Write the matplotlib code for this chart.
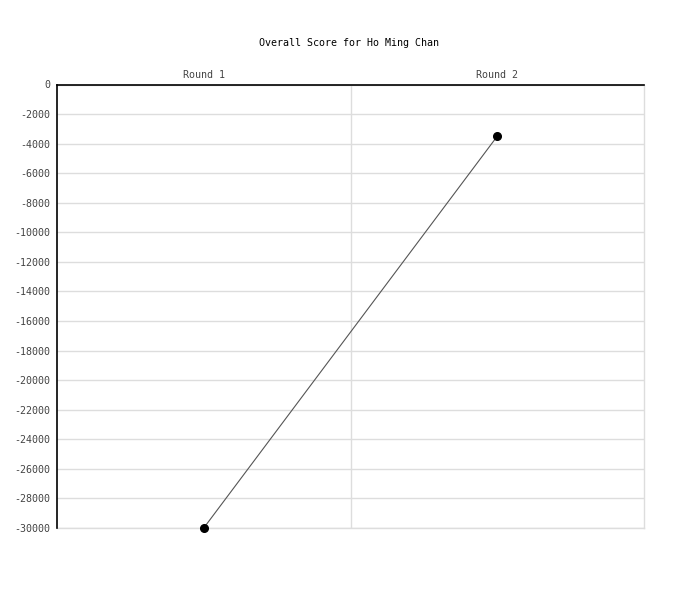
import matplotlib
matplotlib.use("Agg")
import matplotlib.pyplot as plt
from matplotlib.ticker import FixedLocator, FuncFormatter

rounds = ["Round 1", "Round 2"]
scores = [-30000, -3500]
yticks = list(range(0, -30001, -2000))

plt.rcParams['font.family'] = ['DejaVu Sans Mono']
fig = plt.figure(figsize=(7, 6), dpi=100)
ax = fig.add_axes([57/700, 1-528/600, 587/700, (528-84.5)/600])

x = [1, 2]
ax.plot(x, scores, color='#555555', lw=0.8, marker='o', ms=5.5,
        markerfacecolor='black', markeredgecolor='black', zorder=3, clip_on=False)

ax.set_xlim(0.5, 2.5)
ax.set_ylim(-30000, 0)
ax.yaxis.set_major_locator(FixedLocator(yticks))
ax.yaxis.set_major_formatter(FuncFormatter(lambda v, p: f"{int(v)}"))
ax.set_xticks(x)
ax.set_xticklabels(rounds)
ax.xaxis.tick_top()
ax.tick_params(axis='both', which='both', length=0, labelsize=7.2, colors='#444444', pad=5)
ax.tick_params(axis='x', pad=3.5)

ax.grid(axis='y', color='#dddddd', lw=1)
ax.axvline(1.5, color='#dddddd', lw=1, zorder=0)
ax.axvline(2.5, color='#dddddd', lw=1, zorder=0, clip_on=False)
ax.axhline(-30000, color='#dddddd', lw=1, zorder=0, clip_on=False)
for s in ['right', 'bottom']:
    ax.spines[s].set_visible(False)
ax.spines['left'].set_color('black')
ax.spines['top'].set_color('black')
ax.spines['left'].set_linewidth(1.2)
ax.spines['top'].set_linewidth(1.2)
ax.set_axisbelow(True)

fig.text(349/700, 1-43/600, "Overall Score for Ho Ming Chan", ha='center', va='center',
         fontsize=7.2, color='black')

fig.savefig("out.png", dpi=100)
